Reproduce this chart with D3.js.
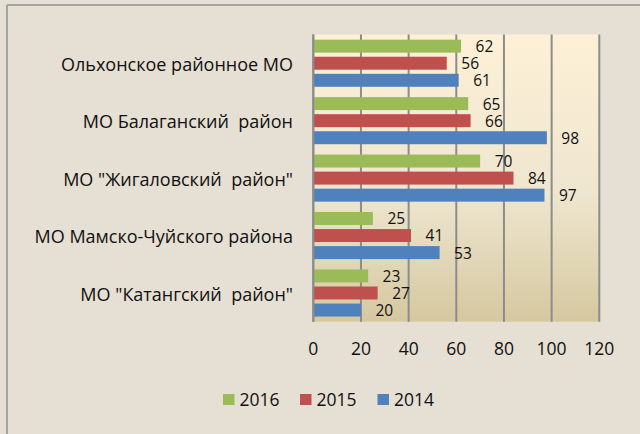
<!DOCTYPE html>
<html>
<head>
<meta charset="utf-8">
<script src="https://cdn.jsdelivr.net/npm/d3@7"></script>
<style>
  html, body { margin: 0; padding: 0; background: #e6dfd3; }
  svg { display: block; font-family: "Open Sans", "Noto Sans", sans-serif; }
</style>
</head>
<body>
<svg id="chart" width="640" height="434"></svg>
<script>
// chart data
const categories = [
  "Ольхонское районное МО",
  "МО Балаганский  район",
  "МО \"Жигаловский  район\"",
  "МО Мамско-Чуйского района",
  "МО \"Катангский  район\""
];
const seriesNames = ["2016", "2015", "2014"];
const values2016 = [62, 65, 70, 25, 23];
const values2015 = [56, 66, 84, 41, 27];
const values2014 = [61, 98, 97, 53, 20];
const xTicks = [0, 20, 40, 60, 80, 100, 120];
const colors = ["#9bbb59", "#c0504d", "#4f81bd"];

const svg = d3.select("#chart");
const W = 640, H = 434;

/* background + frame */
svg.append("rect").attr("width", W).attr("height", H).attr("fill", "#e6dfd3");
svg.append("line").attr("x1", 7).attr("x2", W).attr("y1", 5).attr("y2", 5)
  .attr("stroke", "#a3a3a3").attr("stroke-width", 2);
svg.append("line").attr("x1", 7).attr("x2", 7).attr("y1", 5).attr("y2", H)
  .attr("stroke", "#a3a3a3").attr("stroke-width", 2);

const plot = { left: 313.3, right: 599.3, top: 34.5, bottom: 321.7 };

const x = d3.scaleLinear().domain([0, 120]).range([plot.left, plot.right]);
const y = d3.scaleBand().domain(categories).range([plot.top, plot.bottom]).paddingInner(0.18).paddingOuter(0.09);
const ySub = d3.scaleBand().domain(seriesNames).range([0, y.bandwidth()]).paddingInner(0.24);

/* plot area gradient */
const defs = svg.append("defs");
const grad = defs.append("linearGradient").attr("id", "plotbg")
  .attr("x1", 0).attr("y1", 0).attr("x2", 0).attr("y2", 1);
grad.append("stop").attr("offset", "0%").attr("stop-color", "#fdf0d6");
grad.append("stop").attr("offset", "55%").attr("stop-color", "#efe6cf");
grad.append("stop").attr("offset", "100%").attr("stop-color", "#d5c8a0");

svg.append("rect")
  .attr("x", plot.left).attr("y", plot.top)
  .attr("width", plot.right - plot.left).attr("height", plot.bottom - plot.top)
  .attr("fill", "url(#plotbg)");

/* gridlines */
svg.append("g").selectAll("line")
  .data(xTicks)
  .join("line")
  .attr("x1", d => x(d)).attr("x2", d => x(d))
  .attr("y1", plot.top).attr("y2", plot.bottom)
  .attr("stroke", "#8c8c8c").attr("stroke-width", 2);

/* bars */
const rows = categories.map((c, i) => ({
  cat: c,
  vals: [values2016[i], values2015[i], values2014[i]]
}));

const groups = svg.append("g").selectAll("g")
  .data(rows)
  .join("g")
  .attr("transform", d => `translate(0,${y(d.cat)})`);

groups.selectAll("rect")
  .data(d => d.vals.map((v, k) => ({ v, s: seriesNames[k], k })))
  .join("rect")
  .attr("x", x(0))
  .attr("y", d => ySub(d.s))
  .attr("width", d => x(d.v) - x(0))
  .attr("height", ySub.bandwidth())
  .attr("fill", d => colors[d.k]);

groups.selectAll("text")
  .data(d => d.vals.map((v, k) => ({ v, s: seriesNames[k], k })))
  .join("text")
  .attr("x", d => x(d.v) + 14.5)
  .attr("y", d => ySub(d.s) + ySub.bandwidth() / 2 + 0.5)
  .attr("dy", "0.35em")
  .attr("font-size", 15.5)
  .attr("fill", "#111")
  .text(d => d.v);

/* left axis line on top of bars */
svg.append("line")
  .attr("x1", plot.left).attr("x2", plot.left)
  .attr("y1", plot.top).attr("y2", plot.bottom)
  .attr("stroke", "#8c8c8c").attr("stroke-width", 2);

/* category labels (keep the double spaces) */
svg.append("g").selectAll("text")
  .data(categories)
  .join("text")
  .attr("x", 293)
  .attr("y", d => y(d) + y.bandwidth() / 2 + 1.5)
  .attr("dy", "0.35em")
  .attr("text-anchor", "end")
  .attr("font-size", 18)
  .attr("fill", "#111")
  .style("white-space", "pre")
  .text(d => d);

/* x tick labels */
svg.append("g").selectAll("text")
  .data(xTicks)
  .join("text")
  .attr("x", d => x(d))
  .attr("y", 348.5)
  .attr("dy", "0.35em")
  .attr("text-anchor", "middle")
  .attr("font-size", 17.5)
  .attr("fill", "#111")
  .text(d => d);

/* legend */
const legendX = [223, 300, 377.5];
const legend = svg.append("g").selectAll("g")
  .data(seriesNames)
  .join("g")
  .attr("transform", (d, i) => `translate(${legendX[i]},399.5)`);
legend.append("rect")
  .attr("x", 0).attr("y", -5.5).attr("width", 11.5).attr("height", 11)
  .attr("fill", (d, i) => colors[i]);
legend.append("text")
  .attr("x", 16.5).attr("y", 0).attr("dy", "0.35em")
  .attr("font-size", 17.5).attr("fill", "#111")
  .text(d => d);
</script>
</body>
</html>
